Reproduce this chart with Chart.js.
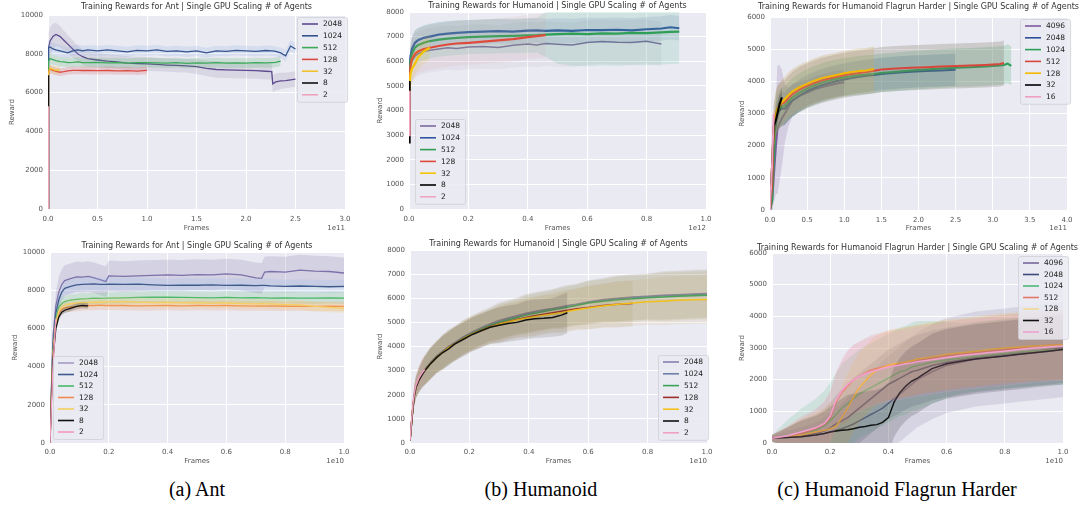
<!DOCTYPE html>
<html><head><meta charset="utf-8">
<script src="https://cdn.jsdelivr.net/npm/chart.js@4.4.1/dist/chart.umd.min.js"></script>
<style>
html,body{margin:0;padding:0;background:#fff;width:1082px;height:508px;overflow:hidden;position:relative}
canvas{position:absolute}
.cap{position:absolute;top:479px;line-height:20px;font-family:"Liberation Serif","Times New Roman",serif;font-size:20px;color:#000;white-space:nowrap;transform:translateX(-50%)}
</style></head><body>
<div class="cap" style="left:197px">(a) Ant</div>
<div class="cap" style="left:541px">(b) Humanoid</div>
<div class="cap" style="left:897px">(c) Humanoid Flagrun Harder</div>
<script>
// ---------- categories / labels ----------
const agentLabels = ['2048','1024','512','128','32','8','2'];
const flagLabels = ['4096','2048','1024','512','128','32','16'];

// ---------- (a) Ant, top row (x in 1e11 frames) ----------
const antTopX = [0, 0.005, 0.02, 0.05, 0.08, 0.12, 0.16, 0.2, 0.25, 0.3, 0.35, 0.4, 0.5, 0.6, 0.7, 0.8, 0.9, 1.0, 1.1, 1.2, 1.3, 1.4, 1.5, 1.6, 1.7, 1.8, 1.9, 2.0, 2.1, 2.2, 2.26, 2.27, 2.3, 2.35, 2.4, 2.45, 2.5];
const antTop2048 = [0, 8300, 8650, 8900, 9000, 8900, 8700, 8500, 8250, 8000, 7850, 7750, 7680, 7620, 7580, 7520, 7500, 7480, 7450, 7420, 7400, 7380, 7340, 7250, 7190, 7170, 7160, 7150, 7130, 7100, 7080, 6450, 6550, 6600, 6620, 6660, 6700];
const antTop2048Band = [0, 800, 700, 650, 600, 550, 500, 450, 450, 400, 400, 400, 380, 360, 350, 350, 350, 350, 350, 350, 350, 350, 380, 400, 420, 420, 420, 420, 420, 420, 420, 450, 450, 420, 400, 400, 400];
const antTop1024 = [0, 8300, 8350, 8250, 8200, 8150, 8100, 8050, 8150, 8200, 8150, 8200, 8150, 8200, 8150, 8100, 8180, 8150, 8200, 8120, 8150, 8100, 8150, 8050, 8150, 8130, 8180, 8150, 8130, 8170, 8150, 8150, 8120, 8050, 7900, 8400, 8250];
const antTop1024Band = [0, 400, 350, 300, 300, 300, 280, 280, 280, 280, 260, 260, 260, 260, 260, 260, 260, 260, 260, 260, 260, 260, 260, 260, 260, 260, 260, 260, 260, 260, 260, 260, 260, 280, 300, 300, 280];
const antTop512 = [0, 7600, 7750, 7700, 7650, 7600, 7580, 7550, 7560, 7580, 7550, 7540, 7560, 7530, 7550, 7520, 7540, 7550, 7530, 7520, 7540, 7510, 7530, 7520, 7540, 7520, 7530, 7520, 7540, 7530, 7540, 7540, 7560, 7620];
const antTop512Band = [0, 300, 280, 260, 250, 250, 250, 250, 250, 250, 250, 250, 250, 250, 250, 250, 250, 250, 250, 250, 250, 250, 250, 250, 250, 250, 250, 250, 250, 250, 250, 250, 250, 250];
const antTop128 = [0, 7100, 7200, 7150, 7100, 7050, 7080, 7120, 7150, 7150, 7140, 7150, 7130, 7140, 7120, 7130, 7110, 7150];
const antTop128Band = [0, 250, 220, 200, 200, 200, 200, 200, 200, 200, 200, 200, 200, 200, 200, 200, 200, 200];
const antTop32 = [0, 7000, 7250, 7200, 7150, 7180];
const antTop32Band = [0, 250, 220, 200, 200, 200];
const antTop8 = [0, 6900];
const antTop8Band = [0, 100];
const antTop2 = [0, 5300];
const antTop2Band = [0, 100];

// ---------- (b) Humanoid, top row (x in 1e12 frames) ----------
const humTopX = [0, 0.002, 0.005, 0.01, 0.02, 0.03, 0.05, 0.07, 0.1, 0.13, 0.16, 0.2, 0.25, 0.3, 0.35, 0.4, 0.43, 0.46, 0.5, 0.55, 0.6, 0.65, 0.7, 0.75, 0.8, 0.85, 0.88, 0.91];
const humTop2048 = [4000, 5300, 5800, 6000, 6200, 6300, 6400, 6450, 6500, 6550, 6520, 6580, 6600, 6560, 6650, 6700, 6660, 6720, 6690, 6660, 6760, 6800, 6770, 6760, 6810, 6700];
const humTop2048Band = [0, 600, 800, 900, 900, 900, 900, 900, 900, 900, 900, 900, 900, 900, 900, 900, 900, 900, 900, 900, 900, 900, 900, 900, 900, 900];
const humTop1024 = [4000, 5600, 6200, 6500, 6750, 6850, 6950, 7000, 7080, 7120, 7150, 7180, 7200, 7220, 7200, 7240, 7250, 7230, 7250, 7230, 7270, 7260, 7280, 7250, 7300, 7330, 7380, 7340];
const humTop1024Band = [0, 500, 500, 500, 500, 500, 500, 500, 500, 500, 500, 500, 500, 500, 500, 500, 500, 500, 500, 500, 500, 500, 500, 500, 500, 500, 500, 500];
const humTop512 = [3500, 5500, 6000, 6300, 6550, 6650, 6750, 6820, 6880, 6920, 6950, 6980, 7000, 7020, 7030, 7050, 7060, 7080, 7100, 7120, 7100, 7130, 7120, 7150, 7140, 7170, 7190, 7200];
const humTop512Band = [0, 500, 600, 700, 700, 700, 700, 700, 700, 700, 700, 700, 700, 700, 700, 700, 700, 900, 1200, 1300, 1300, 1300, 1300, 1300, 1300, 1300, 1300, 1300];
const humTop128 = [3000, 5200, 5800, 6100, 6300, 6400, 6500, 6550, 6620, 6680, 6720, 6750, 6800, 6850, 6900, 6980, 7020, 7060];
const humTop128Band = [0, 600, 800, 900, 900, 900, 900, 900, 900, 900, 900, 900, 900, 900, 900, 900, 900, 900];
const humTop32 = [3000, 5000, 5500, 5700, 5900, 6150, 6400, 6550];
const humTop32Band = [0, 400, 500, 500, 500, 500, 500, 500];
const humTop8 = [2700, 5200];
const humTop8Band = [0, 100];
const humTop2 = [3000, 4800];
const humTop2Band = [0, 100];

// ---------- (c) Flagrun Harder, top row (x in 1e11 frames) ----------
const flagTopX = [0, 0.03, 0.05, 0.08, 0.1, 0.13, 0.16, 0.2, 0.25, 0.3, 0.4, 0.5, 0.6, 0.7, 0.8, 0.9, 1.0, 1.1, 1.2, 1.3, 1.4, 1.5, 1.7, 1.9, 2.1, 2.3, 2.5, 2.7, 2.9, 3.1, 3.15, 3.2, 3.25];
const flagTop4096 = [0, 300, 1000, 2000, 2500, 2700, 2850, 3000, 3200, 3400, 3550, 3650, 3750, 3820, 3880, 3930, 3970];
const flagTop4096Band = [0, 300, 800, 1500, 2000, 1800, 1500, 900, 600, 500, 450, 400, 400, 400, 400, 400, 400];
const flagTop2048 = [0, 800, 2000, 2800, 3000, 3100, 3150, 3150, 3300, 3400, 3560, 3700, 3800, 3880, 3950, 4010, 4060, 4100, 4140, 4170, 4200, 4230, 4270, 4300, 4320, 4340, 4360];
const flagTop2048Band = [0, 300, 500, 500, 500, 500, 500, 500, 500, 500, 500, 500, 500, 500, 500, 500, 500, 500, 500, 500, 500, 500, 500, 500, 500, 500, 500];
const flagTop1024 = [0, 300, 1500, 2900, 3050, 3150, 3200, 3250, 3380, 3500, 3650, 3780, 3880, 3960, 4030, 4080, 4130, 4160, 4190, 4210, 4230, 4260, 4300, 4340, 4370, 4400, 4420, 4440, 4460, 4490, 4510, 4550, 4480];
const flagTop1024Band = [0, 300, 600, 600, 600, 600, 600, 600, 600, 600, 600, 600, 600, 600, 600, 600, 600, 600, 600, 600, 600, 600, 600, 600, 600, 600, 600, 600, 600, 600, 600, 600, 600];
const flagTop512 = [0, 800, 2500, 3000, 3150, 3250, 3300, 3350, 3480, 3600, 3750, 3860, 3950, 4030, 4090, 4140, 4190, 4230, 4260, 4290, 4330, 4370, 4400, 4420, 4440, 4460, 4480, 4490, 4510, 4540, 4570];
const flagTop512Band = [0, 300, 700, 700, 700, 700, 700, 700, 700, 700, 700, 700, 700, 700, 700, 700, 700, 700, 700, 700, 700, 700, 700, 700, 700, 700, 700, 700, 700, 700, 700];
const flagTop128 = [0, 1500, 2600, 3000, 3150, 3250, 3350, 3450, 3580, 3680, 3820, 3920, 4020, 4100, 4150, 4200, 4250, 4290, 4320, 4340, 4380];
const flagTop128Band = [0, 400, 700, 700, 700, 700, 700, 700, 700, 700, 700, 700, 700, 700, 700, 700, 700, 700, 700, 700, 700];
const flagTop32 = [0, 1500, 2600, 2800, 3000, 3300, 3500];
const flagTop32Band = [0, 200, 300, 300, 300, 300, 300];
const flagTop16 = [0, 1500, 3000];
const flagTop16Band = [0, 200, 300];

// ---------- (a) Ant, bottom row (x in 1e10 frames) ----------
const antBotX = [0, 0.005, 0.01, 0.02, 0.03, 0.04, 0.05, 0.07, 0.09, 0.11, 0.13, 0.15, 0.17, 0.19, 0.2, 0.25, 0.3, 0.35, 0.4, 0.45, 0.5, 0.55, 0.6, 0.65, 0.7, 0.72, 0.73, 0.75, 0.8, 0.85, 0.9, 0.95, 1.0];
const antBot2048 = [0, 3000, 5500, 7200, 7900, 8300, 8500, 8600, 8700, 8680, 8720, 8650, 8550, 8450, 8750, 8720, 8750, 8780, 8800, 8780, 8820, 8800, 8850, 8800, 8650, 8620, 8950, 8980, 8950, 9050, 9000, 8980, 8900];
const antBot2048Band = [0, 300, 500, 700, 800, 800, 800, 800, 800, 800, 800, 800, 800, 800, 800, 800, 800, 800, 800, 800, 800, 800, 800, 800, 800, 800, 800, 800, 800, 800, 800, 800, 800];
const antBot1024 = [0, 2800, 5000, 6800, 7500, 7900, 8100, 8200, 8280, 8300, 8320, 8330, 8300, 8310, 8320, 8300, 8320, 8280, 8250, 8270, 8260, 8280, 8250, 8260, 8240, 8250, 8250, 8230, 8200, 8220, 8200, 8180, 8200];
const antBot1024Band = [0, 200, 300, 350, 350, 350, 350, 350, 350, 350, 350, 350, 350, 350, 350, 350, 350, 350, 350, 350, 350, 350, 350, 350, 350, 350, 350, 350, 350, 350, 350, 350, 350];
const antBot512 = [0, 2600, 4800, 6500, 7100, 7300, 7400, 7480, 7520, 7550, 7560, 7580, 7570, 7580, 7590, 7600, 7620, 7640, 7630, 7620, 7610, 7600, 7620, 7600, 7610, 7600, 7600, 7590, 7600, 7590, 7580, 7600, 7590];
const antBot512Band = [0, 200, 300, 300, 300, 300, 300, 300, 300, 300, 300, 300, 300, 300, 300, 300, 300, 300, 300, 300, 300, 300, 300, 300, 300, 300, 300, 300, 300, 300, 300, 300, 300];
const antBot128 = [0, 2500, 4600, 6300, 6800, 7000, 7080, 7120, 7150, 7180, 7200, 7200, 7220, 7200, 7210, 7200, 7180, 7190, 7200, 7180, 7200, 7190, 7200, 7180, 7170, 7180, 7170, 7180, 7160, 7170, 7150, 7160, 7150];
const antBot128Band = [0, 200, 250, 250, 250, 250, 250, 250, 250, 250, 250, 250, 250, 250, 250, 250, 250, 250, 250, 250, 250, 250, 250, 250, 250, 250, 250, 250, 250, 250, 250, 250, 250];
const antBot32 = [0, 2500, 4500, 6300, 6900, 7100, 7200, 7280, 7320, 7350, 7360, 7380, 7370, 7380, 7390, 7400, 7380, 7350, 7360, 7340, 7350, 7320, 7330, 7300, 7280, 7300, 7290, 7280, 7250, 7230, 7150, 7100, 7050];
const antBot32Band = [0, 200, 250, 250, 250, 250, 250, 250, 250, 250, 250, 250, 250, 250, 250, 250, 250, 250, 250, 250, 250, 250, 250, 250, 250, 250, 250, 250, 250, 250, 250, 250, 250];
const antBot8 = [0, 2400, 4400, 6000, 6600, 6850, 6950, 7050, 7150, 7200, 7180];
const antBot8Band = [0, 100, 150, 150, 150, 150, 150, 150, 150, 150, 150];
const antBot2 = [0, 2000, 4000, 6500];
const antBot2Band = [0, 100, 100, 100];

// ---------- (b) Humanoid, bottom row (x in 1e10 frames) ----------
const humBotX = [0, 0.005, 0.01, 0.015, 0.02, 0.03, 0.04, 0.05, 0.07, 0.09, 0.11, 0.13, 0.15, 0.18, 0.21, 0.24, 0.27, 0.3, 0.33, 0.36, 0.39, 0.42, 0.45, 0.48, 0.51, 0.53, 0.56, 0.6, 0.65, 0.7, 0.75, 0.8, 0.85, 0.9, 0.95, 1.0];
const humBot2048 = [100, 800, 1500, 2000, 2350, 2650, 2900, 3050, 3350, 3600, 3800, 4000, 4150, 4400, 4600, 4780, 4950, 5080, 5180, 5280, 5380, 5450, 5520, 5580, 5650, 5700, 5750, 5850, 5950, 6000, 6050, 6080, 6120, 6150, 6180, 6200];
const humBot1024 = [100, 800, 1500, 2000, 2350, 2650, 2900, 3050, 3350, 3600, 3800, 4000, 4150, 4400, 4580, 4750, 4900, 5030, 5150, 5250, 5350, 5430, 5500, 5560, 5620, 5680, 5730, 5830, 5920, 5980, 6030, 6060, 6100, 6120, 6150, 6180];
const humBot512 = [100, 800, 1500, 2000, 2300, 2600, 2850, 3000, 3300, 3550, 3750, 3950, 4100, 4350, 4550, 4720, 4870, 5000, 5100, 5200, 5300, 5380, 5450, 5520, 5580, 5630, 5700, 5800, 5880, 5940, 5980, 6020, 6050, 6080, 6100, 6120];
const humBot128 = [100, 800, 1500, 2000, 2300, 2600, 2850, 3000, 3300, 3550, 3750, 3950, 4100, 4330, 4520, 4680, 4820, 4930, 5030, 5120, 5200, 5270, 5340, 5400, 5460, 5500, 5560, 5620, 5700, 5750, 5780];
const humBot32 = [100, 800, 1500, 2000, 2300, 2600, 2850, 3000, 3300, 3550, 3750, 3950, 4100, 4330, 4520, 4670, 4800, 4920, 5020, 5100, 5170, 5230, 5300, 5350, 5400, 5450, 5520, 5600, 5680, 5750, 5800, 5850, 5880, 5920, 5940, 5950];
const humBot8 = [100, 800, 1500, 2000, 2300, 2600, 2800, 3000, 3300, 3550, 3750, 3900, 4100, 4300, 4500, 4650, 4800, 4880, 4950, 5000, 5100, 5150, 5170, 5200, 5300, 5400];
const humBot2 = [100, 900, 1600, 2100, 2400, 2700, 2900, 3050];
const humBotBand = [50, 200, 300, 400, 450, 500, 550, 600, 650, 650, 700, 700, 700, 700, 700, 700, 700, 750, 750, 750, 800, 800, 800, 800, 850, 850, 850, 900, 900, 950, 950, 950, 1000, 1000, 1000, 1000];

// ---------- (c) Flagrun Harder, bottom row (x in 1e10 frames) ----------
const flagBotX = [0, 0.05, 0.1, 0.15, 0.18, 0.2, 0.22, 0.24, 0.26, 0.28, 0.3, 0.32, 0.34, 0.36, 0.38, 0.4, 0.42, 0.44, 0.46, 0.48, 0.5, 0.55, 0.6, 0.65, 0.7, 0.75, 0.8, 0.85, 0.9, 0.95, 1.0];
const flagBot4096 = [150, 170, 200, 250, 300, 350, 400, 450, 520, 600, 700, 800, 900, 1000, 1100, 1250, 1400, 1550, 1700, 1850, 2000, 2250, 2450, 2550, 2650, 2700, 2750, 2800, 2850, 2900, 2950];
const flagBot4096Band = [100, 200, 300, 400, 500, 600, 700, 800, 900, 1000, 1100, 1200, 1300, 1400, 1500, 1500, 1500, 1500, 1500, 1500, 1500, 1500, 1500, 1500, 1500, 1500, 1500, 1500, 1500, 1500, 1500];
const flagBot2048 = [150, 180, 230, 300, 380, 480, 600, 700, 800, 950, 1100, 1250, 1400, 1550, 1700, 1850, 1950, 2050, 2150, 2250, 2300, 2450, 2550, 2620, 2700, 2750, 2800, 2850, 2900, 2950, 3000];
const flagBot1024 = [150, 200, 280, 400, 550, 700, 900, 1100, 1250, 1400, 1550, 1650, 1750, 1850, 1950, 2050, 2150, 2250, 2300, 2400, 2450, 2550, 2620, 2680, 2730, 2780, 2830, 2870, 2900, 2930, 2950];
const flagBot1024Band = [100, 500, 800, 1000, 1100, 1200, 1300, 1400, 1400, 1400, 1400, 1400, 1400, 1400, 1400, 1400, 1400, 1400, 1400, 1400, 1400, 1300, 1200, 1100, 1100, 1100, 1100, 1100, 1100, 1100, 1100];
const flagBot512 = [150, 200, 300, 450, 600, 800, 1300, 1600, 1800, 2000, 2100, 2200, 2300, 2350, 2400, 2450, 2480, 2500, 2550, 2580, 2620, 2680, 2750, 2800, 2850, 2900, 2950, 3000, 3050, 3080, 3100];
const flagBot128 = [150, 180, 250, 350, 400, 450, 520, 800, 1100, 1450, 1750, 1950, 2150, 2300, 2380, 2450, 2500, 2530, 2560, 2600, 2650, 2720, 2800, 2850, 2900, 2950, 3000, 3030, 3060, 3080, 3100];
const flagBot32 = [150, 170, 200, 250, 300, 350, 380, 400, 420, 450, 500, 520, 560, 580, 650, 800, 1300, 1600, 1800, 1950, 2050, 2350, 2500, 2580, 2650, 2700, 2750, 2800, 2850, 2900, 2950];
const flagBot16 = [150, 220, 350, 480, 620, 850, 1350, 1650, 1850, 2000, 2100, 2180, 2250, 2300, 2350, 2400, 2430, 2460, 2500, 2530, 2570, 2630, 2700, 2760, 2810, 2860, 2900, 2950, 3000, 3030, 3060];
const flagBotBand = [100, 300, 500, 600, 700, 800, 900, 1000, 1100, 1100, 1100, 1100, 1100, 1100, 1100, 1100, 1100, 1100, 1100, 1100, 1100, 1100, 1100, 1100, 1100, 1100, 1100, 1100, 1100, 1100, 1100];

// ---------- drawing ----------
Chart.defaults.font.family = '"DejaVu Sans", sans-serif';
Chart.defaults.font.size = 7;
Chart.defaults.color = '#555';

function rgba(hex, a) {
  const n = parseInt(hex.slice(1), 16);
  return 'rgba(' + ((n >> 16) & 255) + ',' + ((n >> 8) & 255) + ',' + (n & 255) + ',' + a + ')';
}

function makeChart(cfg) {
  const cl = cfg.L - cfg.W, ct = cfg.T - cfg.padTop;
  const w = cfg.W + (cfg.R - cfg.L) + cfg.padRight;
  const h = cfg.padTop + (cfg.B - cfg.T) + cfg.H;
  const cv = document.createElement('canvas');
  cv.width = w; cv.height = h;
  cv.style.left = cl + 'px'; cv.style.top = ct + 'px';
  cv.style.width = w + 'px'; cv.style.height = h + 'px';
  document.body.appendChild(cv);

  const datasets = [];
  cfg.series.forEach((s, i) => {
    const n = s.y.length;
    const xs = cfg.x.slice(0, n);
    const base = 1000 - i * 10;
    datasets.push({ data: xs.map((xv, j) => ({ x: xv, y: s.y[j] + s.band[j] })), borderWidth: 0, borderColor: 'transparent', pointRadius: 0, fill: false, order: base });
    datasets.push({ data: xs.map((xv, j) => ({ x: xv, y: s.y[j] - s.band[j] })), borderWidth: 0, borderColor: 'transparent', pointRadius: 0, fill: '-1', backgroundColor: rgba(s.bandColor || s.color, s.alpha || cfg.alpha), order: base - 1 });
    datasets.push({ label: s.label, data: xs.map((xv, j) => ({ x: xv, y: s.y[j] })), borderColor: s.color, borderWidth: s.lw || cfg.lw, pointRadius: 0, fill: false, tension: 0, order: base - 5 });
  });

  const decor = {
    id: 'decor',
    beforeDraw(chart) {
      const a = chart.chartArea, ctx = chart.ctx;
      ctx.save();
      ctx.fillStyle = '#EAEAF2';
      ctx.fillRect(a.left, a.top, a.right - a.left, a.bottom - a.top);
      ctx.restore();
    },
    afterDraw(chart) {
      const a = chart.chartArea, ctx = chart.ctx;
      ctx.save();
      ctx.font = '8px "DejaVu Sans"';
      ctx.fillStyle = '#333';
      ctx.textAlign = 'center'; ctx.textBaseline = 'middle';
      ctx.fillText(cfg.title, (a.left + a.right) / 2, cfg.titleY - ct);
      ctx.font = '7px "DejaVu Sans"';
      ctx.fillStyle = '#555';
      ctx.textAlign = 'right';
      ctx.fillText(cfg.offset, a.right, cfg.offY - ct);
      // legend box inside plot
      const lg = cfg.legend;
      const n = cfg.series.length;
      ctx.font = '7.5px "DejaVu Sans"';
      const tw = Math.max(...cfg.series.map(s => ctx.measureText(s.label).width));
      const bx = lg.x - cl, by = lg.y0 - ct - 7;
      const bw = 5 + 16 + 5 + tw + 5, bh = 14 + lg.row * (n - 1);
      ctx.fillStyle = 'rgba(234,234,242,0.85)';
      ctx.strokeStyle = 'rgba(205,205,215,0.9)';
      ctx.lineWidth = 0.8;
      ctx.beginPath();
      ctx.roundRect(bx + 0.5, by + 0.5, bw, bh, 2);
      ctx.fill(); ctx.stroke();
      ctx.textAlign = 'left';
      cfg.series.forEach((s, k) => {
        const y = lg.y0 - ct + k * lg.row;
        ctx.strokeStyle = s.legendColor || s.color;
        ctx.lineWidth = 1.6;
        ctx.beginPath(); ctx.moveTo(bx + 5, y); ctx.lineTo(bx + 21, y); ctx.stroke();
        ctx.fillStyle = '#222';
        ctx.fillText(s.label, bx + 26, y + 0.5);
      });
      ctx.restore();
    }
  };

  new Chart(cv, {
    type: 'line',
    data: { datasets },
    options: {
      responsive: false, animation: false, devicePixelRatio: 1,
      events: [],
      layout: { padding: { top: cfg.padTop, right: cfg.padRight, left: 0, bottom: 0 } },
      plugins: { legend: { display: false }, tooltip: { enabled: false }, title: { display: false } },
      scales: {
        x: {
          type: 'linear', min: 0, max: cfg.xMax,
          afterFit: (s) => { s.height = cfg.H; },
          ticks: { stepSize: cfg.xStep, autoSkip: false, maxRotation: 0, padding: cfg.xPad, callback: (v) => Number(v).toFixed(1) },
          grid: { color: '#ffffff', lineWidth: 1, drawTicks: false },
          border: { display: false },
          title: { display: true, text: 'Frames', padding: 0 }
        },
        y: {
          min: 0, max: cfg.yMax,
          afterFit: (s) => { s.width = cfg.W; },
          ticks: { stepSize: cfg.yStep, padding: 5, callback: (v) => String(v) },
          grid: { color: '#ffffff', lineWidth: 1, drawTicks: false },
          border: { display: false },
          title: { display: true, text: 'Reward', padding: 0 }
        }
      }
    },
    plugins: [decor]
  });
}

function seriesOf(labels, xs, ys, bands, colors, extra) {
  return labels.map((lab, i) => Object.assign({ label: lab, y: ys[i], band: bands[i], color: colors[i] }, (extra && extra[i]) || {}));
}

// (a) Ant top
makeChart({
  L: 48, T: 15, R: 345, B: 209, W: 40, H: 23, padTop: 15, padRight: 12, xPad: 6,
  xMax: 3, xStep: 0.5, yMax: 10000, yStep: 2000, alpha: 0.18, lw: 1.3,
  title: 'Training Rewards for Ant | Single GPU Scaling # of Agents', titleY: 7, offY: 228, offset: '1e11',
  legend: { x: 297, y0: 24, row: 11.8 },
  x: antTopX,
  series: seriesOf(agentLabels, antTopX,
    [antTop2048, antTop1024, antTop512, antTop128, antTop32, antTop8, antTop2],
    [antTop2048Band, antTop1024Band, antTop512Band, antTop128Band, antTop32Band, antTop8Band, antTop2Band],
    ['#5E4A8E', '#34548F', '#3DAA5A', '#DA4A43', '#F2C12E', '#111111', '#F0A3BC'],
    [{ bandColor: '#8A7FA0' }, { bandColor: '#7FA8E0' }])
});

// (b) Humanoid top
makeChart({
  L: 409, T: 12, R: 706, B: 209, W: 33, H: 23, padTop: 12, padRight: 12, xPad: 6,
  xMax: 1, xStep: 0.2, yMax: 8000, yStep: 1000, alpha: 0.12, lw: 2.2,
  title: 'Training Rewards for Humanoid | Single GPU Scaling # of Agents', titleY: 6, offY: 228, offset: '1e12',
  legend: { x: 415, y0: 126, row: 11.8 },
  x: humTopX,
  series: seriesOf(agentLabels, humTopX,
    [humTop2048, humTop1024, humTop512, humTop128, humTop32, humTop8, humTop2],
    [humTop2048Band, humTop1024Band, humTop512Band, humTop128Band, humTop32Band, humTop8Band, humTop2Band],
    ['#7C6B9E', '#2F55A0', '#2F9F55', '#E04A3A', '#F5C400', '#000000', '#F2A5C0'],
    [{ lw: 1.6, bandColor: '#B0A0B8' }, {}, { bandColor: '#4DB38A', alpha: 0.16 }, { bandColor: '#D8A0A0' }])
});

// (c) Flagrun top
makeChart({
  L: 770, T: 17, R: 1067, B: 210, W: 32, H: 22, padTop: 17, padRight: 15, xPad: 6,
  xMax: 4, xStep: 0.5, yMax: 6000, yStep: 1000, alpha: 0.2, lw: 2,
  title: 'Training Rewards for Humanoid Flagrun Harder | Single GPU Scaling # of Agents', titleY: 7, offY: 228, offset: '1e11',
  legend: { x: 1020, y0: 26, row: 11.8 },
  x: flagTopX,
  series: seriesOf(flagLabels, flagTopX,
    [flagTop4096, flagTop2048, flagTop1024, flagTop512, flagTop128, flagTop32, flagTop16],
    [flagTop4096Band, flagTop2048Band, flagTop1024Band, flagTop512Band, flagTop128Band, flagTop32Band, flagTop16Band],
    ['#7E5A9E', '#2E4E9A', '#2A9E58', '#D8463B', '#F4B800', '#000000', '#EFA0C0'],
    [{}, {}, {}, { bandColor: '#7F7868', alpha: 0.28 }, { bandColor: '#C8A860', alpha: 0.28 }])
});

// (a) Ant bottom
makeChart({
  L: 50, T: 252, R: 344, B: 443, W: 39, H: 22, padTop: 12, padRight: 12, xPad: 5,
  xMax: 1, xStep: 0.2, yMax: 10000, yStep: 2000, alpha: 0.2, lw: 1.3,
  title: 'Training Rewards for Ant | Single GPU Scaling # of Agents', titleY: 246, offY: 461, offset: '1e10',
  legend: { x: 53, y0: 363, row: 11.5 },
  x: antBotX,
  series: seriesOf(agentLabels, antBotX,
    [antBot2048, antBot1024, antBot512, antBot128, antBot32, antBot8, antBot2],
    [antBot2048Band, antBot1024Band, antBot512Band, antBot128Band, antBot32Band, antBot8Band, antBot2Band],
    ['#7E70A8', '#3C5A8C', '#49B86A', '#F08A50', '#F4CF60', '#111111', '#F598C0'],
    [{ legendColor: '#A89CC8' }, { bandColor: '#8FB8E8' }])
});

// (b) Humanoid bottom
makeChart({
  L: 410, T: 250, R: 707, B: 443, W: 34, H: 22, padTop: 12, padRight: 12, xPad: 5,
  xMax: 1, xStep: 0.2, yMax: 8000, yStep: 1000, alpha: 0.12, lw: 1.5,
  title: 'Training Rewards for Humanoid | Single GPU Scaling # of Agents', titleY: 244, offY: 461, offset: '1e10',
  legend: { x: 658, y0: 362, row: 11.8 },
  x: humBotX,
  series: seriesOf(agentLabels, humBotX,
    [humBot2048, humBot1024, humBot512, humBot128, humBot32, humBot8, humBot2],
    [humBotBand, humBotBand, humBotBand, humBotBand, humBotBand, humBotBand, humBotBand],
    ['#8A7FB0', '#6F80A8', '#3AA25A', '#9E2E2A', '#F2C01A', '#111111', '#F0A0C0'],
    [{ bandColor: '#A08A68' }, { bandColor: '#9A8A60' }, { bandColor: '#9A9A58' }, { bandColor: '#B08858' }, { bandColor: '#C8A048' }])
});

// (c) Flagrun bottom
makeChart({
  L: 772, T: 253, R: 1063, B: 443, W: 34, H: 22, padTop: 12, padRight: 15, xPad: 5,
  xMax: 1, xStep: 0.2, yMax: 6000, yStep: 1000, alpha: 0.17, lw: 1.5,
  title: 'Training Rewards for Humanoid Flagrun Harder | Single GPU Scaling # of Agents', titleY: 248, offY: 461, offset: '1e10',
  legend: { x: 1018, y0: 263, row: 11.5 },
  x: flagBotX,
  series: seriesOf(flagLabels, flagBotX,
    [flagBot4096, flagBot2048, flagBot1024, flagBot512, flagBot128, flagBot32, flagBot16],
    [flagBot4096Band, flagBotBand, flagBot1024Band, flagBotBand, flagBotBand, flagBotBand, flagBotBand],
    ['#76689A', '#3F4A78', '#4CB878', '#E4776A', '#F5B830', '#111111', '#F0A0D0'],
    [{}, {}, {}, { lw: 1.8 }, { legendColor: '#F2D890' }])
});
</script>
</body></html>
